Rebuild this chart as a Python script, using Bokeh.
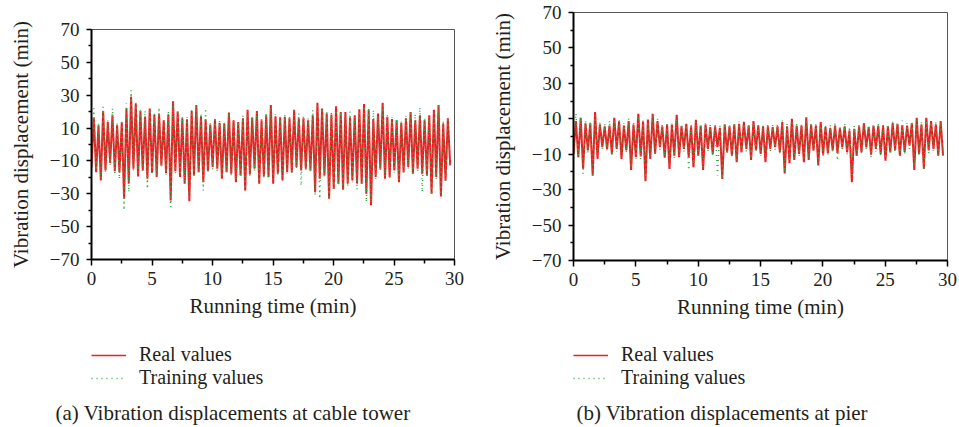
from bokeh.plotting import figure
from bokeh.layouts import row, column
from bokeh.models import FixedTicker, Legend, LegendItem, Range1d, Title
from bokeh.embed import file_html
from bokeh.resources import INLINE

# ---------------- data ----------------
SAMPLE_STEP_MIN = 0.1925   # half an oscillation period (min)

# (a) cable tower
tower_real_start = -14.0
tower_real_peaks = [16.4, 11.7, 20.4, 13.7, 17.8, 11.7, 13.3, 21.9, 29.0, 25.0,
                    20.3, 16.8, 21.9, 18.2, 18.8, 14.7, 18.2, 26.3, 20.0, 16.0,
                    15.3, 20.3, 24.0, 17.2, 15.3, 12.2, 15.3, 13.2, 12.8, 19.5,
                    14.7, 13.7, 16.0, 21.2, 16.4, 20.3, 14.7, 17.8, 24.0, 17.2,
                    16.4, 16.8, 16.0, 21.2, 16.0, 16.0, 14.7, 17.8, 25.4, 21.9,
                    18.8, 18.2, 23.3, 19.7, 19.7, 16.4, 17.8, 21.5, 24.6, 21.0,
                    15.5, 18.8, 25.4, 16.8, 15.5, 14.7, 13.2, 16.0, 19.7, 14.7,
                    17.8, 14.7, 17.8, 21.2, 24.0, 12.8, 16.0]
tower_real_troughs = [-16.8, -21.9, -15.8, -11.3, -16.2, -16.8, -33.0, -23.5, -14.7, -19.4,
                      -15.8, -20.8, -17.3, -19.8, -12.7, -17.3, -34.0, -16.2, -19.8, -23.9,
                      -34.6, -18.8, -16.8, -22.9, -16.2, -13.7, -14.7, -20.8, -16.8, -17.8,
                      -22.9, -18.8, -28.0, -18.2, -14.7, -23.9, -19.4, -19.8, -23.9, -17.8,
                      -21.9, -16.8, -16.8, -13.7, -15.8, -14.7, -15.8, -29.0, -20.8, -18.8,
                      -33.0, -27.0, -23.9, -27.4, -23.9, -21.9, -23.5, -23.9, -30.0, -37.0,
                      -19.8, -14.7, -20.8, -19.8, -15.8, -22.9, -16.8, -13.7, -17.8, -14.7,
                      -17.8, -18.8, -30.0, -19.8, -31.6, -21.9, -12.7]
tower_train_start = -12.0
tower_train_peaks = [22.0, 13.0, 23.0, 15.0, 22.0, 13.5, 15.0, 25.0, 33.0, 25.5,
                     22.0, 20.5, 21.5, 19.0, 22.5, 16.0, 20.5, 27.0, 21.0, 17.0,
                     16.5, 21.0, 23.5, 19.0, 22.0, 13.5, 16.5, 14.5, 13.5, 19.0,
                     15.5, 14.0, 17.5, 20.5, 17.0, 19.5, 16.0, 19.0, 22.5, 18.5,
                     17.0, 18.0, 17.5, 20.5, 19.0, 17.5, 16.0, 21.0, 24.5, 22.0,
                     20.5, 19.5, 22.5, 20.0, 18.5, 20.0, 17.0, 20.5, 23.5, 22.5,
                     21.0, 17.5, 24.0, 18.5, 16.5, 15.5, 14.5, 17.5, 20.5, 18.5,
                     22.5, 16.5, 17.0, 20.5, 23.5, 14.5, 16.5]
tower_train_troughs = [-15.5, -20.5, -17.0, -12.5, -17.5, -21.0, -40.0, -29.0, -16.0, -18.5,
                       -17.0, -27.0, -18.5, -18.5, -14.0, -18.5, -38.0, -17.5, -18.5, -22.5,
                       -33.0, -20.0, -18.0, -28.0, -17.5, -15.0, -16.0, -19.5, -18.0, -19.0,
                       -21.5, -20.0, -28.5, -19.5, -16.0, -22.5, -20.5, -21.0, -22.5, -19.0,
                       -20.5, -18.0, -18.0, -15.0, -25.0, -16.0, -17.0, -31.0, -33.0, -20.0,
                       -32.0, -28.0, -25.0, -28.5, -25.0, -23.0, -27.5, -25.0, -35.0, -35.5,
                       -21.0, -16.0, -19.5, -21.0, -17.0, -21.5, -18.0, -15.0, -19.0, -16.0,
                       -29.0, -20.0, -31.0, -21.0, -30.5, -23.0, -14.0]

# (b) pier
pier_real_start = -10.0
pier_real_peaks = [8.7, 10.6, 7.5, 7.5, 13.8, 6.8, 5.7, 6.2, 10.6, 8.5,
                   6.2, 8.7, 6.8, 12.8, 8.5, 9.6, 12.8, 8.7, 5.7, 6.8,
                   6.8, 12.3, 5.7, 7.2, 5.7, 9.4, 6.2, 6.8, 5.3, 5.7,
                   4.9, 6.8, 5.7, 6.8, 7.2, 8.1, 6.2, 8.7, 6.2, 5.7,
                   5.7, 5.3, 5.7, 8.1, 5.7, 10.0, 6.2, 6.2, 10.9, 6.6,
                   6.2, 8.1, 5.3, 4.9, 6.2, 4.9, 5.7, 3.4, 4.3, 5.7,
                   7.5, 5.3, 6.2, 6.2, 6.2, 5.7, 7.5, 7.2, 6.2, 6.2,
                   7.5, 10.6, 6.8, 10.6, 8.7, 6.8, 8.7]
pier_real_troughs = [-11.7, -18.3, -7.9, -22.1, -12.6, -6.0, -7.0, -9.8, -7.0, -12.6,
                     -7.9, -18.9, -11.7, -11.3, -25.3, -12.6, -9.8, -6.0, -12.0, -18.3,
                     -10.8, -11.7, -7.0, -11.7, -17.4, -10.8, -18.9, -7.0, -9.8, -6.0,
                     -24.0, -8.9, -10.8, -14.5, -8.9, -7.0, -13.2, -7.5, -9.8, -14.5,
                     -7.0, -6.0, -8.9, -20.8, -15.1, -13.2, -9.8, -14.5, -13.2, -7.9,
                     -16.4, -10.2, -9.4, -7.9, -9.4, -6.0, -8.9, -25.8, -10.8, -8.9,
                     -6.0, -10.2, -7.0, -9.8, -13.6, -8.9, -7.5, -10.8, -8.9, -5.1,
                     -18.9, -9.8, -18.3, -7.9, -7.0, -10.8, -10.8]
pier_train_start = -12.0
pier_train_peaks = [13.0, 11.0, 9.0, 8.5, 12.0, 8.0, 7.0, 9.0, 9.5, 10.0,
                    7.5, 10.5, 8.0, 11.5, 9.0, 8.5, 11.5, 10.0, 7.0, 8.0,
                    7.5, 10.0, 7.0, 6.5, 7.0, 8.5, 6.0, 7.5, 6.5, 7.0,
                    6.0, 7.5, 7.0, 8.0, 8.5, 8.5, 7.0, 9.0, 7.5, 6.5,
                    7.0, 6.5, 7.0, 9.0, 7.0, 9.0, 7.5, 7.0, 9.5, 8.0,
                    7.0, 7.5, 6.0, 6.5, 7.5, 6.0, 7.0, 5.5, 6.0, 7.0,
                    8.0, 6.5, 7.0, 7.5, 7.0, 7.0, 8.5, 8.0, 9.0, 7.5,
                    8.5, 9.5, 8.0, 9.0, 8.0, 8.5, 8.0]
pier_train_troughs = [-10.5, -21.0, -9.0, -23.0, -11.5, -7.5, -8.0, -11.0, -8.5, -11.5,
                      -9.0, -17.5, -12.5, -13.0, -23.0, -11.5, -10.5, -7.5, -11.0, -17.0,
                      -12.0, -11.0, -8.5, -19.0, -15.5, -12.0, -17.5, -8.5, -11.0, -22.0,
                      -23.5, -10.0, -12.0, -13.5, -10.0, -8.5, -12.5, -9.0, -11.0, -13.0,
                      -8.5, -7.5, -10.0, -20.0, -14.0, -12.5, -11.0, -13.5, -12.0, -9.0,
                      -15.0, -11.5, -10.5, -9.0, -13.5, -8.0, -10.0, -22.0, -12.0, -10.0,
                      -8.0, -11.5, -8.5, -11.0, -12.5, -10.0, -9.0, -12.0, -10.0, -7.0,
                      -17.0, -11.0, -19.0, -9.5, -8.5, -12.0, -11.5]

x_ticks = [0, 5, 10, 15, 20, 25, 30]
x_minor_ticks = [2.5, 7.5, 12.5, 17.5, 22.5, 27.5]
y_ticks = [-70, -50, -30, -10, 10, 30, 50, 70]
y_tick_labels = ["\u221270", "\u221250", "\u221230", "\u221210", "10", "30", "50", "70"]
y_minor_ticks = [-60, -40, -20, 0, 20, 40, 60]

legend_labels = ["Real values", "Training values"]
x_title = "Running time (min)"
y_title = "Vibration displacement (min)"
captions = ["(a) Vibration displacements at cable tower", "(b) Vibration displacements at pier"]

# ---------------- styling ----------------
FONT = "Liberation Serif"
TEXT = "#231f20"
RED = "#ee1d23"
GREEN = "#2fae4a"
PLOT_H = 330
KEY_H = 427 - PLOT_H


def series(start, peaks, troughs):
    vals = [start]
    for pk, tr in zip(peaks, troughs):
        vals.extend([pk, tr])
    times = [i * SAMPLE_STEP_MIN for i in range(len(vals))]
    return times, vals


def red_style(w=2):
    return dict(line_color=RED, line_width=w)


def green_style(w=1.5):
    return dict(line_color=GREEN, line_width=w, line_dash="1 4")


def plot_panel(width, borders, real, train):
    left, right, top, bottom = borders
    p = figure(width=width, height=PLOT_H, output_backend="svg", toolbar_location=None,
               x_range=Range1d(0, 30), y_range=Range1d(-70, 70),
               min_border_left=left, min_border_right=right,
               min_border_top=top, min_border_bottom=bottom)
    p.background_fill_color = "white"
    p.border_fill_color = "white"
    p.grid.visible = False
    p.outline_line_color = "#555555"
    p.outline_line_width = 1

    tx, ty = series(*real)
    gx, gy = series(*train)
    p.line(tx, ty, **red_style())
    p.line(gx, gy, **green_style())

    xa = p.xaxis[0]
    ya = p.yaxis[0]
    xa.ticker = FixedTicker(ticks=x_ticks, minor_ticks=x_minor_ticks)
    ya.ticker = FixedTicker(ticks=y_ticks, minor_ticks=y_minor_ticks)
    ya.major_label_overrides = {float(v): s for v, s in zip(y_ticks, y_tick_labels)}
    for ax in (xa, ya):
        ax.axis_line_color = "black"
        ax.axis_line_width = 2
        ax.major_tick_line_color = "black"
        ax.minor_tick_line_color = "black"
        ax.major_tick_line_width = 1.5
        ax.minor_tick_line_width = 1.5
        ax.major_tick_in = 0
        ax.minor_tick_in = 0
        ax.major_label_text_font = FONT
        ax.major_label_text_font_size = "19px"
        ax.major_label_text_color = TEXT
        ax.axis_label_text_font = FONT
        ax.axis_label_text_font_size = "21px"
        ax.axis_label_text_font_style = "normal"
        ax.axis_label_text_color = TEXT
    xa.major_tick_out = 6
    xa.minor_tick_out = 4
    ya.major_tick_out = 5
    ya.minor_tick_out = 3
    xa.axis_label = x_title
    ya.axis_label = y_title
    xa.major_label_standoff = 6
    xa.axis_label_standoff = 6
    ya.major_label_standoff = 7
    ya.axis_label_standoff = 14
    return p, (tx, ty), (gx, gy)


def key_panel(width, real_xy, train_xy, caption, caption_offset):
    k = figure(width=width, height=KEY_H, output_backend="svg", toolbar_location=None,
               x_range=Range1d(0, 1), y_range=Range1d(0, 1),
               x_axis_location=None, y_axis_location=None,
               min_border_top=0, min_border_bottom=0)
    k.grid.visible = False
    k.outline_line_color = None
    k.background_fill_color = "white"
    k.border_fill_color = "white"
    # single-point proxies (draw nothing themselves), used only for the key samples
    r_key = k.line(real_xy[0][:1], real_xy[1][:1], **red_style(1.4))
    g_key = k.line(train_xy[0][:1], train_xy[1][:1], **green_style(1.4))
    legend = Legend(items=[LegendItem(label=legend_labels[0], renderers=[r_key]),
                           LegendItem(label=legend_labels[1], renderers=[g_key])],
                    location=(0, 7), orientation="vertical",
                    glyph_width=35, glyph_height=20, label_height=20, label_standoff=13,
                    spacing=0, padding=0, margin=0,
                    label_text_font=FONT, label_text_font_size="20px",
                    label_text_line_height=1.0,
                    label_text_color=TEXT, label_text_baseline="middle",
                    border_line_color=None, background_fill_alpha=0)
    k.add_layout(legend, "center")
    k.add_layout(Title(text=caption, align="left", offset=caption_offset, standoff=5,
                       text_font=FONT, text_font_size="21px", text_font_style="normal",
                       text_color=TEXT), "below")
    return k


pa, pa_real, pa_train = plot_panel(480, (91, 26, 29, PLOT_H - 259),
                                   (tower_real_start, tower_real_peaks, tower_real_troughs),
                                   (tower_train_start, tower_train_peaks, tower_train_troughs))
pb, pb_real, pb_train = plot_panel(479, (93, 12, 12, PLOT_H - 260),
                                   (pier_real_start, pier_real_peaks, pier_real_troughs),
                                   (pier_train_start, pier_train_peaks, pier_train_troughs))
ka = key_panel(480, pa_real, pa_train, captions[0], -36)
kb = key_panel(479, pb_real, pb_train, captions[1], 3)

layout = row(column(pa, ka, spacing=0), column(pb, kb, spacing=0), spacing=0)
open("out.html", "w").write(file_html(layout, INLINE))
